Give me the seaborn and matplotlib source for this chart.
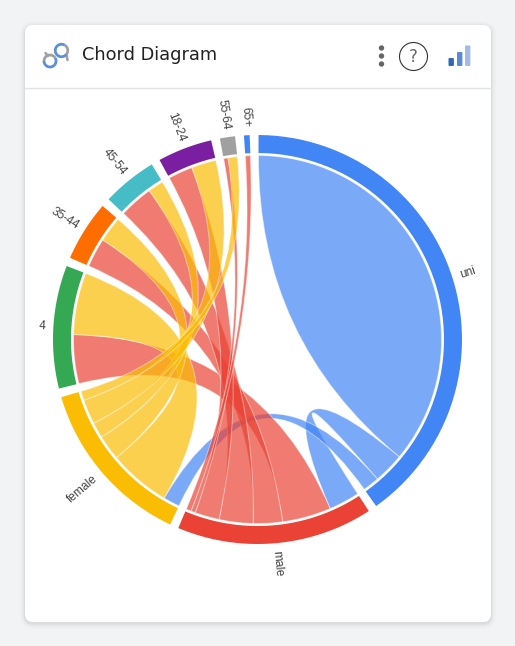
import numpy as np
import matplotlib
matplotlib.use("Agg")
import matplotlib.pyplot as plt
from matplotlib.path import Path
from matplotlib.patches import PathPatch, FancyBboxPatch, Circle, Arc
from matplotlib.lines import Line2D
import seaborn as sns

# Groups, clockwise from twelve o'clock
groups = ["uni", "male", "female", "4", "35-44", "45-54", "18-24", "55-64", "65+"]
ages = ["4", "35-44", "45-54", "18-24", "55-64", "65+"]

# Flow sizes
uni_self = 129.2
uni_male = 9.7
uni_female = 5.2
male_to_age = [15.4, 9.2, 10.7, 7.7, 1.4, 1.6]
female_to_age = [19.5, 8.0, 4.9, 7.8, 2.9, 0.0]

group_colors = ["#4285F4", "#EA4335", "#FBBC04", "#34A853", "#FF6D01",
                "#46BDC6", "#7B1FA2", "#A0A0A0", "#4285F4"]

W, H = 515, 646
CX, CY = 257.5, 339.5
R_OUT, R_IN, R_CH = 204.5, 186.5, 184.0
GAP = 2.5
START = 0.3
SPAN = 240.0

sns.set_theme(style="white")
plt.rcParams["font.family"] = ["Liberation Sans", "DejaVu Sans"]
palette = dict(zip(groups, sns.color_palette(group_colors)))

fig = plt.figure(figsize=(W / 100, H / 100), dpi=100, facecolor="#F1F3F4")

# Card and header live in a full-figure pixel axes
bg = fig.add_axes([0, 0, 1, 1])
bg.set_xlim(0, W)
bg.set_ylim(H, 0)
bg.axis("off")
for grow, a in [(5, 0.012), (3.5, 0.018), (2, 0.025), (1, 0.035)]:
    bg.add_patch(FancyBboxPatch((33, 34.5), 450, 581,
                                boxstyle=f"round,pad={8 + grow},rounding_size={8 + grow}",
                                fc="black", ec="none", alpha=a, zorder=1))
bg.add_patch(FancyBboxPatch((33, 33), 450, 581, boxstyle="round,pad=8,rounding_size=8",
                            fc="white", ec="none", zorder=2))
bg.add_line(Line2D([25, 491], [88, 88], color="#E3E3E3", lw=1, zorder=3))
bg.text(82, 55, "Chord Diagram", family="DejaVu Sans", fontsize=12.8, color="#222222",
        va="center", ha="left", zorder=3)

# Header icons
blue_ic, gray_ic = "#5B8FD9", "#A0A0A0"
bg.add_patch(Arc((50, 61), 12, 12, theta1=-30, theta2=180, color=blue_ic, lw=2, zorder=4))
bg.add_patch(Arc((50, 61), 12, 12, theta1=180, theta2=330, color=gray_ic, lw=2, zorder=3))
bg.add_patch(Arc((61.5, 50.5), 12.5, 12.5, theta1=-60, theta2=40, color=gray_ic, lw=2, zorder=3))
bg.add_patch(Arc((61.5, 50.5), 12.5, 12.5, theta1=40, theta2=300, color=blue_ic, lw=2, zorder=4))
bg.add_line(Line2D([45.5, 48], [53, 56], color=gray_ic, lw=1.8, zorder=3))
bg.add_line(Line2D([66.5, 67.5], [55, 60], color=gray_ic, lw=1.8, zorder=3))
for y in (48, 56, 64):
    bg.add_patch(Circle((381.5, y), 2.7, fc="#666666", ec="none", zorder=3))
bg.add_patch(Circle((413.5, 56.5), 14, fc="none", ec="#333333", lw=0.8, zorder=3))
bg.text(413.5, 56.5, "?", fontsize=12, color="#666666", ha="center", va="center",
        family="DejaVu Sans", zorder=3)
for x0, top, col in [(448.5, 58, "#2F68B5"), (457, 52, "#5A8BD0"), (465, 45.5, "#A3BCE5")]:
    bg.add_patch(FancyBboxPatch((x0 + 1, top + 1), 3.4, 66 - top - 2, boxstyle="round,pad=1,rounding_size=1",
                                fc=col, ec="none", zorder=3))

# Chord plot, one data unit per pixel, centred on the circle
ax = fig.add_axes([(CX - SPAN) / W, 1 - (CY + SPAN) / H, 2 * SPAN / W, 2 * SPAN / H], zorder=5)
ax.set_xlim(-SPAN, SPAN)
ax.set_ylim(-SPAN, SPAN)
ax.patch.set_alpha(0)
ax.set_xticks([])
ax.set_yticks([])
sns.despine(ax=ax, left=True, bottom=True)


def point(theta, r):
    t = np.deg2rad(theta)
    return r * np.sin(t), r * np.cos(t)


def arc_points(a0, a1, r, n=60):
    return [point(t, r) for t in np.linspace(a0, a1, n)]


# Segment order inside every group arc
segments = {
    "uni": [("uni", uni_self), ("male", uni_male), ("female", uni_female)],
    "male": [("uni", uni_male)] + list(zip(ages, male_to_age)),
    "female": [("uni", uni_female)] + list(zip(ages, female_to_age)),
}
for i, age in enumerate(ages):
    segments[age] = [("male", male_to_age[i])]
    if female_to_age[i] > 0:
        segments[age].append(("female", female_to_age[i]))

total = sum(v for g in groups for _, v in segments[g])
scale = (360 - GAP * len(groups)) / total

group_span, seg_span = {}, {}
angle = START
for g in groups:
    start = angle
    for other, v in segments[g]:
        seg_span[(g, other)] = (angle, angle + v * scale)
        angle += v * scale
    group_span[g] = (start, angle)
    angle += GAP


def draw_ribbon(verts, codes, color, z):
    path = Path(verts, codes)
    ax.add_patch(PathPatch(path, fc=color, ec="none", alpha=0.7, zorder=z))
    ax.add_patch(PathPatch(path, fc="none", ec="white", lw=0.7, alpha=0.45, zorder=z))


def ribbon(src, tgt, color, z):
    a0, a1 = src
    t0, t1 = tgt
    pts = arc_points(a0, a1, R_CH)
    verts = pts + [(0, 0), point(t0, R_CH)]
    codes = [Path.MOVETO] + [Path.LINETO] * (len(pts) - 1) + [Path.CURVE3, Path.CURVE3]
    pts = arc_points(t0, t1, R_CH)[1:]
    verts += pts + [(0, 0), point(a0, R_CH)]
    codes += [Path.LINETO] * len(pts) + [Path.CURVE3, Path.CURVE3]
    draw_ribbon(verts, codes, color, z)


def self_ribbon(span, color, z):
    a0, a1 = span
    pts = arc_points(a0, a1, R_CH, n=120)
    verts = pts + [(0, 0), point(a0, R_CH)]
    codes = [Path.MOVETO] + [Path.LINETO] * (len(pts) - 1) + [Path.CURVE3, Path.CURVE3]
    draw_ribbon(verts, codes, color, z)


self_ribbon(seg_span[("uni", "uni")], palette["uni"], 2)
ribbon(seg_span[("uni", "male")], seg_span[("male", "uni")], palette["uni"], 2)
ribbon(seg_span[("uni", "female")], seg_span[("female", "uni")], palette["uni"], 2)
for age in ages:
    ribbon(seg_span[("male", age)], seg_span[(age, "male")], palette["male"], 3)
for i, age in enumerate(ages):
    if female_to_age[i] > 0:
        ribbon(seg_span[("female", age)], seg_span[(age, "female")], palette["female"], 4)

# Outer ring and radial labels
for g in groups:
    a0, a1 = group_span[g]
    outer = arc_points(a0, a1, R_OUT)
    inner = arc_points(a1, a0, R_IN)
    ax.fill(*zip(*(outer + inner)), color=palette[g], lw=0, zorder=6)
    mid = (a0 + a1) / 2
    x, y = point(mid, R_OUT + 8)
    flip = mid > 180
    ax.text(x, y, g, fontsize=8.6, color="#444444", rotation=(90 - mid) + (180 if flip else 0),
            rotation_mode="anchor", ha="right" if flip else "left", va="center", zorder=7)

fig.savefig("out.png", dpi=100, facecolor=fig.get_facecolor())
